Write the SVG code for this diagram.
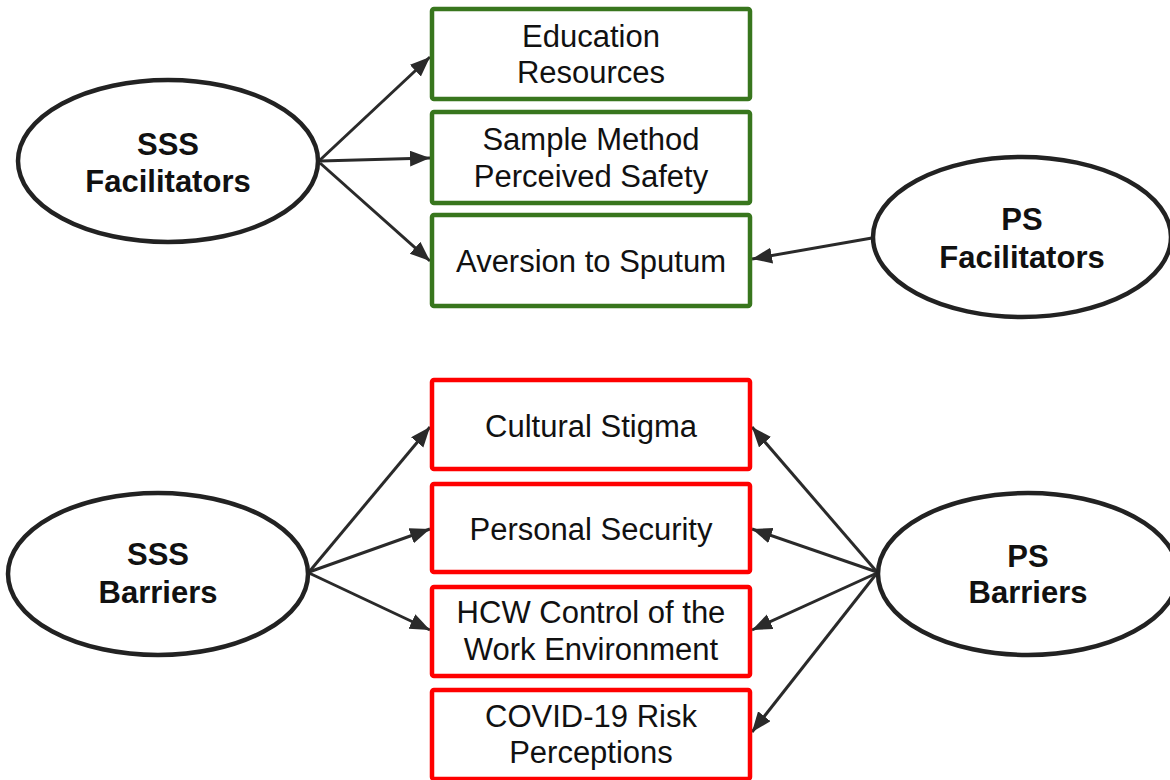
<svg xmlns="http://www.w3.org/2000/svg" width="1170" height="780" viewBox="0 0 1170 780">
<style>
.box{fill:#fff;stroke-width:4.5}
.g{stroke:#38761d}
.r{stroke:#ff0000}
.ell{fill:#fff;stroke:#222;stroke-width:4.5}
.t{font-family:"Liberation Sans",Arial,sans-serif;font-size:31px;fill:#111;text-anchor:middle}
.b{font-weight:bold}
.c{stroke:#2a2a2a;stroke-width:3;fill:none;marker-end:url(#ah)}
</style>
<defs>
<marker id="ah" markerUnits="userSpaceOnUse" markerWidth="22" markerHeight="18" refX="20" refY="8" orient="auto">
<path d="M0,0 L20,8 L0,16 Z" fill="#2a2a2a"/>
</marker>
</defs>
<rect width="1170" height="780" fill="#fff"/>
<g id="connectors">
<line class="c" x1="320" y1="160" x2="430" y2="57"/>
<line class="c" x1="320" y1="161" x2="430" y2="158"/>
<line class="c" x1="320" y1="163" x2="430" y2="261"/>
<line class="c" x1="872" y1="238" x2="752" y2="259"/>
<line class="c" x1="309" y1="572" x2="430" y2="427"/>
<line class="c" x1="309" y1="572" x2="430" y2="529"/>
<line class="c" x1="309" y1="573" x2="430" y2="630"/>
<line class="c" x1="877" y1="572" x2="752" y2="427"/>
<line class="c" x1="877" y1="572" x2="752" y2="529"/>
<line class="c" x1="877" y1="573" x2="752" y2="630"/>
<line class="c" x1="877" y1="573" x2="752" y2="732"/>
</g>
<g id="sss-facilitators">
<ellipse class="ell" cx="168" cy="161" rx="150" ry="81"/>
<text class="t b" x="168" y="155">SSS</text>
<text class="t b" x="168" y="192">Facilitators</text>
</g>
<g id="ps-facilitators">
<ellipse class="ell" cx="1022" cy="237" rx="149" ry="80"/>
<text class="t b" x="1022" y="230">PS</text>
<text class="t b" x="1022" y="268">Facilitators</text>
</g>
<g id="sss-barriers">
<ellipse class="ell" cx="158" cy="574" rx="150" ry="81"/>
<text class="t b" x="158" y="565">SSS</text>
<text class="t b" x="158" y="603">Barriers</text>
</g>
<g id="ps-barriers">
<ellipse class="ell" cx="1028" cy="574" rx="150" ry="81"/>
<text class="t b" x="1028" y="567">PS</text>
<text class="t b" x="1028" y="603">Barriers</text>
</g>
<g id="education-resources">
<rect class="box g" x="432" y="9" width="318" height="90" rx="2"/>
<text class="t" x="591" y="47">Education</text>
<text class="t" x="591" y="83">Resources</text>
</g>
<g id="sample-method">
<rect class="box g" x="432" y="112" width="318" height="91" rx="2"/>
<text class="t" x="591" y="150">Sample Method</text>
<text class="t" x="591" y="187">Perceived Safety</text>
</g>
<g id="aversion">
<rect class="box g" x="432" y="215" width="318" height="91" rx="2"/>
<text class="t" x="591" y="272">Aversion to Sputum</text>
</g>
<g id="cultural-stigma">
<rect class="box r" x="432" y="380" width="318" height="89" rx="2"/>
<text class="t" x="591" y="437">Cultural Stigma</text>
</g>
<g id="personal-security">
<rect class="box r" x="432" y="484" width="318" height="88" rx="2"/>
<text class="t" x="591" y="540">Personal Security</text>
</g>
<g id="hcw-control">
<rect class="box r" x="432" y="587" width="318" height="89" rx="2"/>
<text class="t" x="591" y="623">HCW Control of the</text>
<text class="t" x="591" y="660">Work Environment</text>
</g>
<g id="covid-risk">
<rect class="box r" x="432" y="690" width="318" height="89" rx="2"/>
<text class="t" x="591" y="727">COVID-19 Risk</text>
<text class="t" x="591" y="763">Perceptions</text>
</g>
</svg>
